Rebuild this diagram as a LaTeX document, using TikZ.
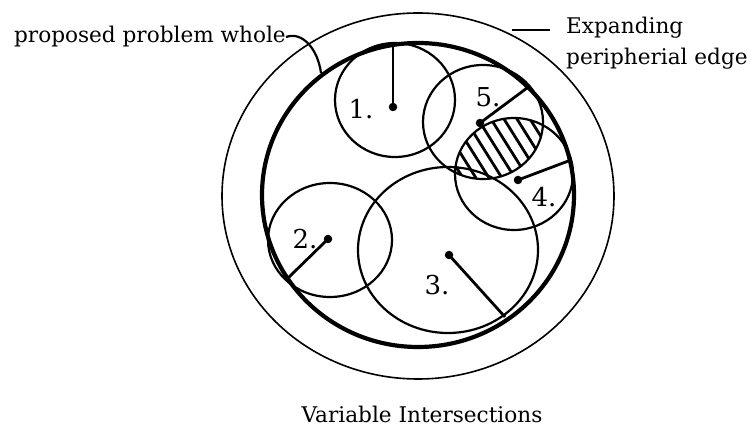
\documentclass[tikz,border=0pt]{standalone}
\usepackage{tikz}
\usepackage{fontspec}
\setmainfont{DejaVu Serif}

\begin{document}
\begin{tikzpicture}[x=1pt,y=-1pt,
  lbl/.style={font=\fontsize{21.6}{31}\selectfont,inner sep=0pt},
  num/.style={font=\fontsize{26}{28}\selectfont,inner sep=0pt},
  ring/.style={line width=1.6pt},
  rim/.style={line width=4.2pt},
  blob/.style={line width=2.2pt},
  spoke/.style={line width=2.8pt},
  hub/.style={circle,fill,inner sep=0pt,minimum size=8.5pt}]
\useasboundingbox (0,0) rectangle (755,427);
\draw[ring] (418,196) ellipse [x radius=196,y radius=183];
\draw[rim] (418,195) ellipse [x radius=156,y radius=152];
\coordinate (c1) at (395,100);
\coordinate (c2) at (330,240);
\coordinate (c3) at (448,250);
\coordinate (c4) at (514,174);
\coordinate (c5) at (483,122);
\begin{scope}
\clip (c5) ellipse [x radius=60,y radius=57];
\clip (c4) ellipse [x radius=59,y radius=56];
\foreach \k in {-4,...,7}
  \draw[line width=2.8pt] ({470+13*\k-32},76) -- ({470+13*\k+32},178);
\end{scope}
\draw[blob] (c1) ellipse [x radius=60,y radius=57];
\draw[blob] (c2) ellipse [x radius=62,y radius=57];
\draw[blob] (c3) ellipse [x radius=90,y radius=83];
\draw[blob] (c4) ellipse [x radius=59,y radius=56];
\draw[blob] (c5) ellipse [x radius=60,y radius=57];
\node[hub] (h1) at (393,107) {};
\node[hub] (h2) at (328,239) {};
\node[hub] (h3) at (449,255) {};
\node[hub] (h4) at (518,180) {};
\node[hub] (h5) at (480,123) {};
\coordinate (e1) at (393,43);
\coordinate (e2) at (288,278);
\coordinate (e3) at (505,317);
\coordinate (e4) at (571,160);
\coordinate (e5) at (527,88);
\draw[spoke] (h1.center) -- (e1);
\draw[spoke] (h2.center) -- (e2);
\draw[spoke] (h3.center) -- (e3);
\draw[spoke] (h4.center) -- (e4);
\draw[spoke] (h5.center) -- (e5);
\node[num] (n1) at (361,109) {1.};
\node[num] (n2) at (305,239) {2.};
\node[num] (n3) at (437,285) {3.};
\node[num] (n4) at (544,197) {4.};
\node[num] (n5) at (488,97) {5.};
\node[lbl,anchor=east] (whole) at (286,37) {proposed problem whole};
\coordinate (wholetip) at (321,73);
\draw[line width=2.2pt] (whole.east) .. controls (303,31) and (318,50) .. (wholetip);
\node[lbl,anchor=west,align=left] (edge) at (566,43) {Expanding\\peripherial edge};
\coordinate (edgefoot) at (512,30);
\coordinate (edgetip) at (550,30);
\draw[line width=1.8pt] (edgefoot) -- (edgetip);
\node[lbl] (title) at (422,414) {Variable Intersections};
\end{tikzpicture}
\end{document}
